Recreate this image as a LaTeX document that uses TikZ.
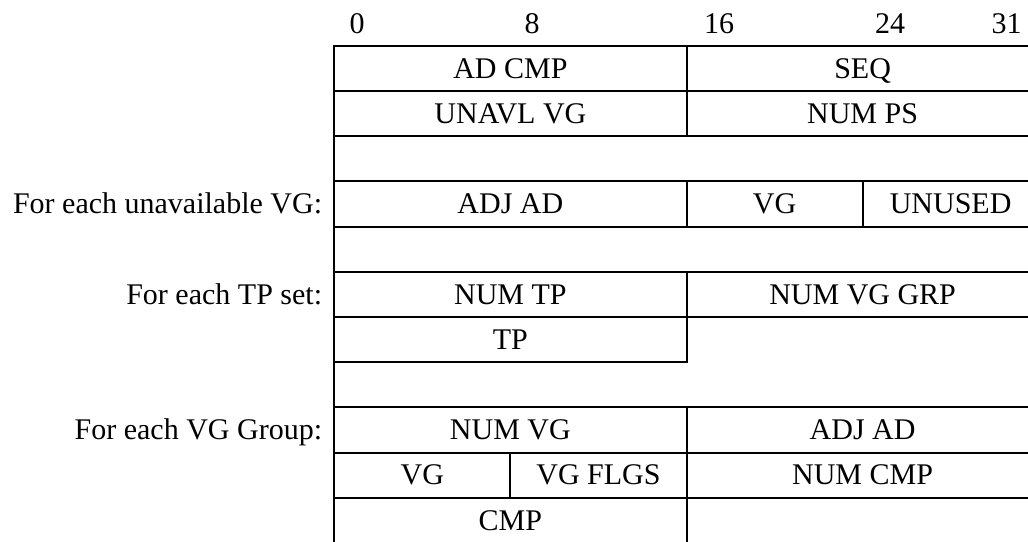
\documentclass[tikz,border=0pt]{standalone}
\usepackage{fontspec}
\setmainfont{Liberation Serif}
\usetikzlibrary{positioning}
\tikzset{
  field/.style={draw, line width=2pt, anchor=north west, inner sep=0pt, outer sep=0pt,
    minimum height=45.2pt, minimum width=352.2pt, text height=19.5pt, text depth=0pt},
  halffield/.style={field, minimum width=176.1pt},
  rowlabel/.style={inner sep=0pt, text height=19.5pt, text depth=0pt},
  bitnum/.style={inner sep=0pt, anchor=base},
  rule/.style={line width=2pt},
}
\begin{document}
\begin{tikzpicture}[x=1pt, y=-1pt, font=\fontsize{30}{35}\selectfont]
  \useasboundingbox (0,0) rectangle (1028,541);
  \clip (0,0) rectangle (1028,541);
  % bit numbers
  \node[bitnum] (bit0) at (357,33) {0};
  \node[bitnum] (bit8) at (532,33) {8};
  \node[bitnum] (bit16) at (719,33) {16};
  \node[bitnum] (bit24) at (890,33) {24};
  \node[bitnum] (bit31) at (1006.5,33) {31};
  % header
  \node[field] (adcmp) at (334.3,45.7) {AD CMP};
  \node[field] (seq) at (686.5,45.7) {SEQ};
  \node[field] (unavl) at (334.3,90.9) {UNAVL VG};
  \node[field] (numps) at (686.5,90.9) {NUM PS};
  % unavailable VGs
  \node[field] (adjad) at (334.3,181.3) {ADJ AD};
  \node[halffield] (vg) at (686.5,181.3) {VG};
  \node[halffield] (unused) at (862.6,181.3) {UNUSED};
  % TP sets
  \node[field] (numtp) at (334.3,271.7) {NUM TP};
  \node[field] (numvggrp) at (686.5,271.7) {NUM VG GRP};
  \node[field] (tp) at (334.3,316.9) {TP};
  % VG groups
  \node[field] (numvg) at (334.3,407.3) {NUM VG};
  \node[field] (grpadjad) at (686.5,407.3) {ADJ AD};
  \node[halffield] (grpvg) at (334.3,452.5) {VG};
  \node[halffield] (vgflgs) at (510.4,452.5) {VG FLGS};
  \node[field] (numcmp) at (686.5,452.5) {NUM CMP};
  \node[field] (cmp) at (334.3,497.7) {CMP};
  % gaps between the groups
  \draw[rule] (unavl.south west) -- (adjad.north west);
  \draw[rule] (adjad.south west) -- (numtp.north west);
  \draw[rule] (tp.south west) -- (numvg.north west);
  % row labels
  \node[rowlabel, left=12pt of adjad] (lblvg) {For each unavailable VG:};
  \node[rowlabel, left=12pt of numtp] (lbltp) {For each TP set:};
  \node[rowlabel, left=12pt of numvg] (lblgrp) {For each VG Group:};
\end{tikzpicture}
\end{document}
